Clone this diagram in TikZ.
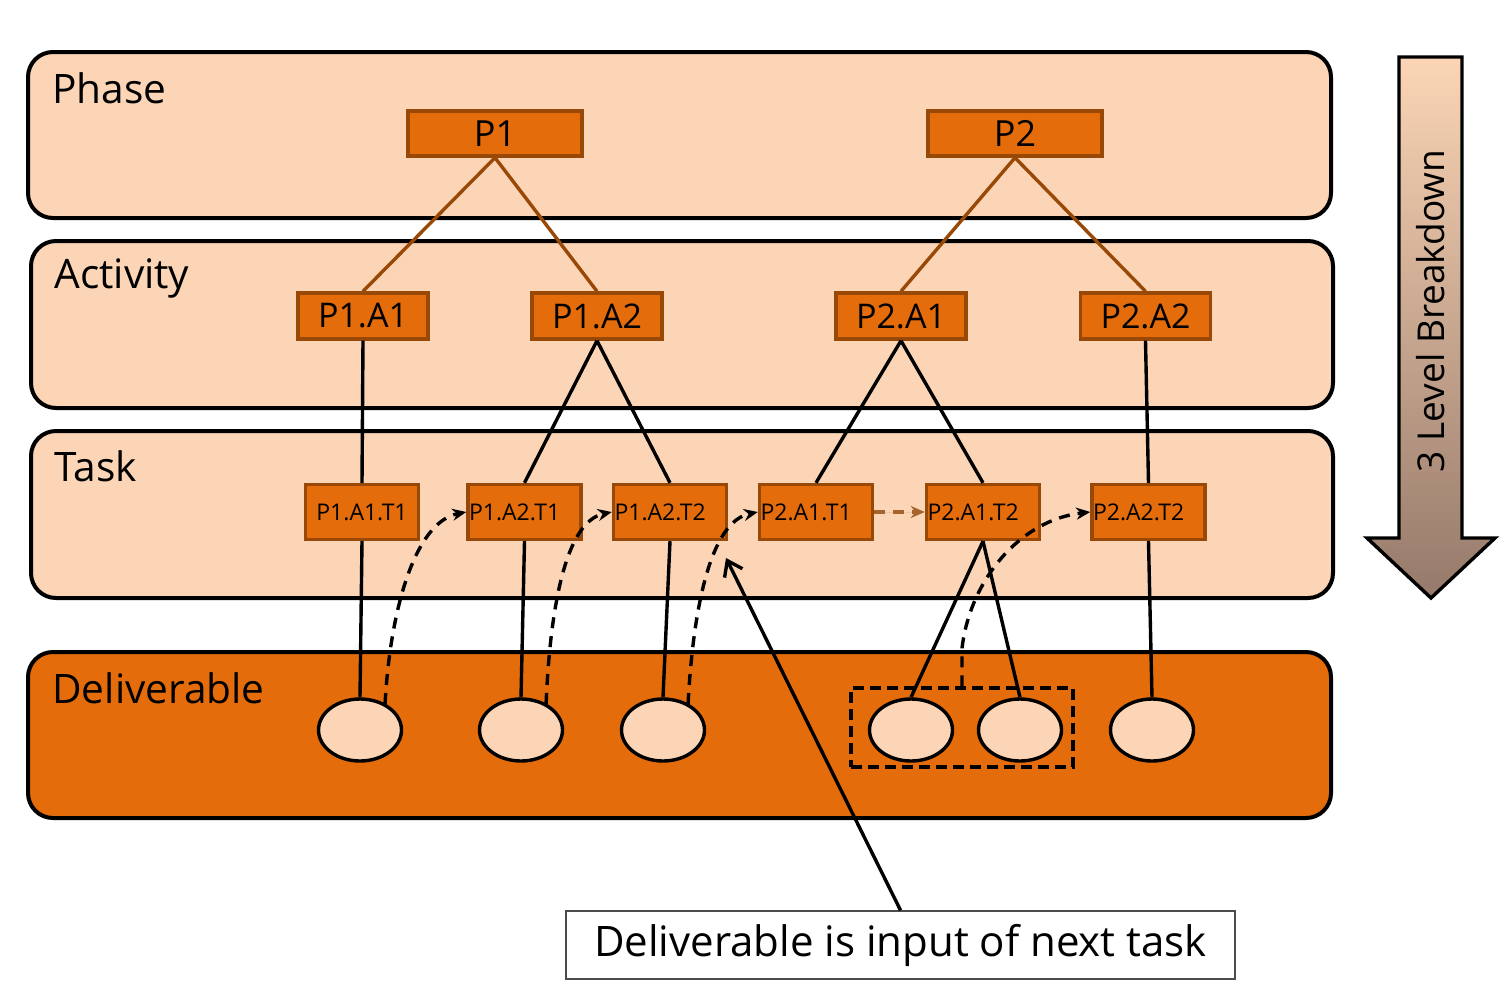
\documentclass[tikz,border=0pt]{standalone}
\usepackage{fontspec}
\setmainfont{Open Sans}
\usetikzlibrary{shapes.geometric,arrows.meta}
\definecolor{peach}{HTML}{FBD5B5}
\definecolor{orng}{HTML}{E46C0A}
\definecolor{brn}{HTML}{984807}
\definecolor{arrbot}{HTML}{95796A}
\tikzset{
  layer/.style={draw=black, line width=2pt, rounded corners=12.5pt, fill=peach, inner sep=0pt},
  layerlabel/.style={anchor=west, inner sep=0pt, font=\fontsize{20.3}{24}\selectfont},
  pbox/.style={draw=brn, line width=1.7pt, fill=orng, inner sep=0pt, minimum width=87pt, minimum height=22.5pt, font=\fontsize{18}{21}\selectfont},
  abox/.style={draw=brn, line width=1.7pt, fill=orng, inner sep=0pt, minimum width=65pt, minimum height=23pt, font=\fontsize{17}{20}\selectfont},
  tbox/.style={draw=brn, line width=1.7pt, fill=orng, inner xsep=0.5pt, inner ysep=0pt, minimum width=56.5pt, minimum height=27.5pt, font=\fontsize{11.5}{14}\selectfont},
  tboxl/.style={tbox, text width=55.5pt, align=left},
  deliv/.style={ellipse, draw=black, line width=1.7pt, fill=peach, inner sep=0pt, minimum width=41.5pt, minimum height=31pt},
  bline/.style={draw=brn, line width=1.7pt},
  kline/.style={draw=black, line width=1.7pt},
  dline/.style={draw=black, line width=1.7pt, dash pattern=on 5.5pt off 4pt, -{Stealth[length=7pt,width=6pt]}},
}
\begin{document}
\begin{tikzpicture}[x=0.5pt, y=-0.5pt]
\useasboundingbox (0,0) rectangle (1500,1002);
% layers
\node[layer, minimum width=651.5pt, minimum height=83pt] (phase) at (679.5,135) {};
\node[layer, minimum width=651pt, minimum height=83.5pt] (activity) at (682,324.5) {};
\node[layer, minimum width=651pt, minimum height=83.5pt] (task) at (682,514.5) {};
\node[layer, fill=orng, minimum width=651.5pt, minimum height=83pt] (deliverable) at (679.5,735) {};
\node[layerlabel] (lphase) at (52,88) {Phase};
\node[layerlabel] (lactivity) at (54,278) {Activity};
\node[layerlabel] (ltask) at (54,466) {Task};
\node[layerlabel] (ldeliv) at (52,688) {Deliverable};
% big arrow
\path[draw=black, line width=1.7pt, top color=peach, bottom color=arrbot]
  (1399,57) -- (1462,57) -- (1462,538) -- (1495,538) -- (1431,598) -- (1367,538) -- (1399,538) -- cycle;
\node[rotate=90, inner sep=0pt, font=\fontsize{18.5}{22}\selectfont] (breakdown) at (1431,311) {3 Level Breakdown};
% phase boxes
\node[pbox] (P1) at (495,133.5) {P1};
\node[pbox] (P2) at (1015,133.5) {P2};
% activity boxes
\node[abox] (P1A1) at (363,316) {P1.A1};
\node[abox] (P1A2) at (597,316) {P1.A2};
\node[abox] (P2A1) at (901,316) {P2.A1};
\node[abox] (P2A2) at (1145.5,316) {P2.A2};
% task boxes
\node[tbox] (P1A1T1) at (362,512) {P1.A1.T1};
\node[tboxl] (P1A2T1) at (524.5,512) {P1.A2.T1};
\node[tboxl] (P1A2T2) at (670,512) {P1.A2.T2};
\node[tboxl] (P2A1T1) at (816,512) {P2.A1.T1};
\node[tboxl] (P2A1T2) at (983,512) {P2.A1.T2};
\node[tboxl] (P2A2T2) at (1148.5,512) {P2.A2.T2};
% deliverables
\node[deliv] (E1) at (360,730) {};
\node[deliv] (E2) at (521,730) {};
\node[deliv] (E3) at (663,730) {};
\node[deliv] (E4) at (911,730) {};
\node[deliv] (E5) at (1020,730) {};
\node[deliv] (E6) at (1152,730) {};
\node[draw=black, line width=1.7pt, dash pattern=on 5.5pt off 3pt, minimum width=111pt, minimum height=39.5pt, inner sep=0pt] (dbox) at (962,727.5) {};
% phase -> activity
\draw[bline] (P1.south) -- (P1A1.north);
\draw[bline] (P1.south) -- (P1A2.north);
\draw[bline] (P2.south) -- (P2A1.north);
\draw[bline] (P2.south) -- (P2A2.north);
% activity -> task
\draw[kline] (P1A1.south) -- (P1A1T1.north);
\draw[kline] (P1A2.south) -- (P1A2T1.north);
\draw[kline] (P1A2.south) -- (P1A2T2.north);
\draw[kline] (P2A1.south) -- (P2A1T1.north);
\draw[kline] (P2A1.south) -- (P2A1T2.north);
\draw[kline] (P2A2.south) -- (P2A2T2.north);
% task -> deliverable
\draw[kline] (P1A1T1.south) -- (E1.north);
\draw[kline] (P1A2T1.south) -- (E2.north);
\draw[kline] (P1A2T2.south) -- (E3.north);
\draw[kline] (P2A1T2.south) -- (E4.north);
\draw[kline] (P2A1T2.south) -- (E5.north);
\draw[kline] (P2A2T2.south) -- (E6.north);
% dashed input arrows
\draw[dline] ([xshift=-0.5pt]E1.45) .. controls (390,610) and (415,522) .. (P1A2T1.west);
\draw[dline] ([xshift=-0.5pt]E2.45) .. controls (550,610) and (565,522) .. (P1A2T2.west);
\draw[dline] ([xshift=-0.5pt]E3.45) .. controls (693,610) and (710,522) .. (P2A1T1.west);
\draw[dline] (dbox.north) -- ++(0,-38) .. controls (970,580) and (1020,520) .. (P2A2T2.west);
\draw[dline, draw=brn!85!white, fill=brn!85!white] (P2A1T1.east) -- (P2A1T2.west);
% callout
\node[draw=black!70, line width=0.75pt, fill=white, minimum width=334.5pt, minimum height=34pt, inner sep=0pt, font=\fontsize{21}{25}\selectfont] (note) at (900.5,945) {Deliverable is input of next task};
\coordinate (tip) at (726,558);
\draw[kline, -{Straight Barb[length=7pt,width=10pt]}] (note.north) -- (tip);
\end{tikzpicture}
\end{document}
